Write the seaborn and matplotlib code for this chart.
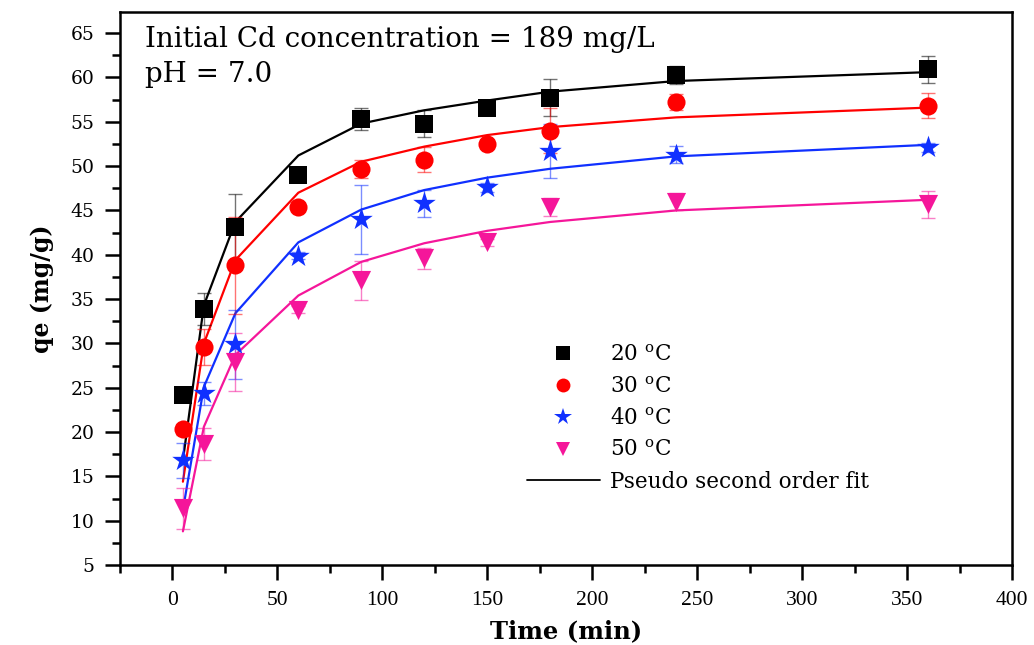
import numpy as np
import pandas as pd
import matplotlib
matplotlib.use("Agg")
import matplotlib.pyplot as plt
import seaborn as sns
from matplotlib.lines import Line2D
from matplotlib.ticker import MultipleLocator

# ---- data ----
time_min = [5, 15, 30, 60, 90, 120, 150, 180, 240, 360]
temps = ["20", "30", "40", "50"]

qe_20 = [24.2, 33.9, 43.1, 49.0, 55.3, 54.8, 56.6, 57.7, 60.3, 60.9]
qe_30 = [20.3, 29.6, 38.8, 45.4, 49.7, 50.7, 52.5, 54.0, 57.2, 56.8]
qe_40 = [16.8, 24.4, 29.9, 39.9, 44.0, 45.8, 47.6, 51.7, 51.3, 52.1]
qe_50 = [11.4, 18.7, 27.9, 33.8, 37.1, 39.6, 41.4, 45.4, 46.0, 45.7]

err_20 = [0.8, 1.8, 3.8, 0.4, 1.2, 1.5, 0.4, 2.1, 1.0, 1.5]
err_30 = [0.6, 2.0, 5.5, 0.4, 1.0, 1.4, 0.4, 2.5, 0.9, 1.4]
err_40 = [2.0, 1.3, 3.9, 0.4, 3.9, 1.5, 0.5, 3.0, 1.0, 0.5]
err_50 = [2.3, 1.8, 3.3, 0.4, 2.2, 1.2, 0.4, 1.0, 1.0, 1.5]

fit_20 = [16.8, 34.3, 43.7, 51.2, 54.8, 56.3, 57.4, 58.4, 59.6, 60.6]
fit_30 = [14.4, 30.0, 39.4, 47.0, 50.5, 52.2, 53.5, 54.4, 55.5, 56.6]
fit_40 = [11.2, 25.1, 33.4, 41.4, 45.1, 47.3, 48.7, 49.7, 51.1, 52.4]
fit_50 = [8.8, 20.6, 28.7, 35.4, 39.2, 41.3, 42.7, 43.7, 45.0, 46.2]

legend_labels = ["20 $^{\\rm o}$C", "30 $^{\\rm o}$C", "40 $^{\\rm o}$C", "50 $^{\\rm o}$C"]
fit_label = "Pseudo second order fit"
note_lines = ["Initial Cd concentration = 189 mg/L", "pH = 7.0"]
xlabel = "Time (min)"
ylabel = "qe (mg/g)"

# ---- style ----
sns.set_theme(style="ticks")
plt.rcParams["font.family"] = ["DejaVu Serif", "Liberation Serif"]
plt.rcParams["mathtext.fontset"] = "custom"
plt.rcParams["mathtext.rm"] = "DejaVu Serif"
plt.rcParams["mathtext.it"] = "DejaVu Serif:italic"
plt.rcParams["mathtext.bf"] = "DejaVu Serif:bold"
plt.rcParams["text.color"] = "black"
plt.rcParams["axes.labelcolor"] = "black"
plt.rcParams["xtick.color"] = "black"
plt.rcParams["ytick.color"] = "black"

colors = ["#000000", "#FF0000", "#1030FF", "#F5169A"]
markers = ["s", "o", "*", "v"]
msizes = [150, 170, 290, 190]

obs = pd.DataFrame({
    "t": time_min * 4,
    "q": qe_20 + qe_30 + qe_40 + qe_50,
    "err": err_20 + err_30 + err_40 + err_50,
    "T": [T for T in temps for _ in time_min],
})
fit = pd.DataFrame({
    "t": time_min * 4,
    "q": fit_20 + fit_30 + fit_40 + fit_50,
    "T": [T for T in temps for _ in time_min],
})

fig = plt.figure(figsize=(10.34, 6.45), dpi=100)
ax = fig.add_axes([0.116, 0.124, 0.8627, 0.8576])

pal = dict(zip(temps, colors))
sns.lineplot(data=fit, x="t", y="q", hue="T", palette=pal, lw=1.6,
             legend=False, ax=ax, zorder=2, sort=False)

for T, c in zip(temps, colors):
    d = obs[obs["T"] == T]
    ax.errorbar(d["t"], d["q"], yerr=d["err"], fmt="none", ecolor=c,
                alpha=0.55, elinewidth=1.0, capsize=5, capthick=1.0, zorder=3)

for T, c, m, s in zip(temps, colors, markers, msizes):
    d = obs[obs["T"] == T]
    sns.scatterplot(x=d["t"], y=d["q"], color=c, marker=m, s=s,
                    edgecolor=c, linewidth=0, ax=ax, zorder=4, legend=False)

ax.set_xlim(-25, 400)
ax.set_ylim(5, 67.4)
ax.xaxis.set_major_locator(MultipleLocator(50))
ax.xaxis.set_minor_locator(MultipleLocator(25))
ax.yaxis.set_major_locator(MultipleLocator(5))
ax.yaxis.set_minor_locator(MultipleLocator(2.5))
ax.tick_params(axis="both", which="major", direction="out", length=10.5, width=1.8,
               labelsize=13.5, colors="black", pad=8, top=False, right=False)
ax.tick_params(axis="both", which="minor", direction="out", length=5.5, width=1.8,
               top=False, right=False)
ax.tick_params(axis="x", which="major", pad=8, labelsize=15.5,
               labelfontfamily="Liberation Serif")
for sp in ax.spines.values():
    sp.set_linewidth(1.8)
    sp.set_color("black")
    sp.set_visible(True)

ax.set_xlabel(xlabel, fontsize=17.5, fontweight="bold", labelpad=7)
ax.set_ylabel(ylabel, fontsize=17, fontweight="bold", labelpad=12)

ax.text(0.028, 0.936, note_lines[0], transform=ax.transAxes, fontsize=20,
        va="baseline", ha="left")
ax.text(0.028, 0.874, note_lines[1], transform=ax.transAxes, fontsize=20,
        va="baseline", ha="left")

handles = []
for c, m, lab in zip(colors, markers, legend_labels):
    ms = 13 if m == "*" else 10
    handles.append(Line2D([], [], color=c, marker=m, linestyle="none",
                          markersize=ms, markeredgewidth=0, label=lab))
handles.append(Line2D([], [], color="black", lw=1.3, label=fit_label))
ax.legend(handles=handles, loc="upper left", bbox_to_anchor=(0.444, 0.419),
          frameon=False, fontsize=15.5, handlelength=3.4, handletextpad=0.45,
          labelspacing=0.45, borderpad=0)

fig.savefig("out.png", dpi=100)
